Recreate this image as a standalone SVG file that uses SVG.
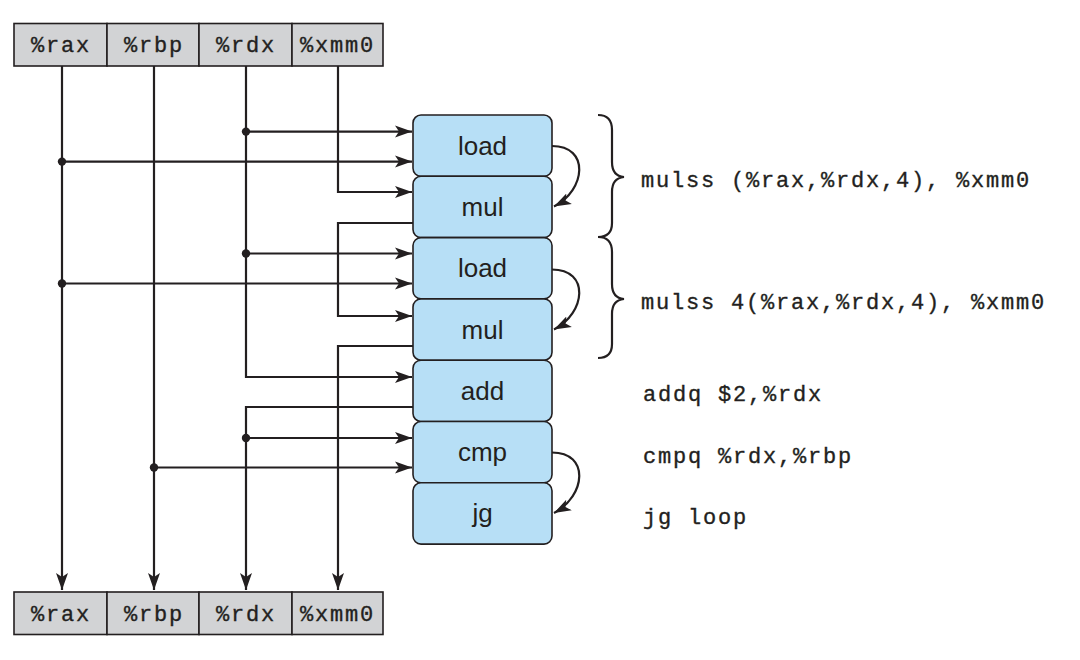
<svg xmlns="http://www.w3.org/2000/svg" width="1080" height="660" viewBox="0 0 1080 660">
<defs>
<style>
.reg{fill:#d2d3d5;stroke:#231f20;stroke-width:1.6}
.rt{font-family:"Liberation Mono",monospace;font-size:22px;letter-spacing:1.8px;fill:#231f20;stroke:#231f20;stroke-width:0.35}
.node{fill:#b7dff6;stroke:#231f20;stroke-width:1.6}
.nt{font-family:"Liberation Sans",Arial,sans-serif;font-size:26px;fill:#231f20;text-anchor:middle}
.w{fill:none;stroke:#231f20;stroke-width:2.2}
.a{marker-end:url(#ah)}
.dot{fill:#231f20}
.code{font-family:"Liberation Mono",monospace;font-size:22px;letter-spacing:1.8px;fill:#231f20;stroke:#231f20;stroke-width:0.35}
</style>
<marker id="ah" markerUnits="userSpaceOnUse" markerWidth="18" markerHeight="14" viewBox="0 0 18 14" refX="17" refY="7" orient="auto">
<path d="M0,1 L17,7 L0,13 L4,7 Z" fill="#231f20"/>
</marker>
</defs>
<rect width="1080" height="660" fill="#fff"/>
<g id="top-registers">
<rect class="reg" x="14" y="23.5" width="93" height="42.5"/>
<rect class="reg" x="107" y="23.5" width="92" height="42.5"/>
<rect class="reg" x="199" y="23.5" width="93" height="42.5"/>
<rect class="reg" x="292" y="23.5" width="91" height="42.5"/>
<text class="rt" x="31" y="52">%rax</text>
<text class="rt" x="124" y="52">%rbp</text>
<text class="rt" x="216" y="52">%rdx</text>
<text class="rt" x="300" y="52">%xmm0</text>
</g>
<g id="bottom-registers">
<rect class="reg" x="14" y="592" width="93" height="42.5"/>
<rect class="reg" x="107" y="592" width="92" height="42.5"/>
<rect class="reg" x="199" y="592" width="93" height="42.5"/>
<rect class="reg" x="292" y="592" width="91" height="42.5"/>
<text class="rt" x="31" y="621">%rax</text>
<text class="rt" x="124" y="621">%rbp</text>
<text class="rt" x="216" y="621">%rdx</text>
<text class="rt" x="300" y="621">%xmm0</text>
</g>
<g id="connectors">
<path class="w a" d="M62,66 V590"/>
<path class="w a" d="M154,66 V590"/>
<path class="w a" d="M246,66 V377 H412"/>
<path class="w a" d="M413,407 H246 V590"/>
<path class="w a" d="M338,66 V192 H412"/>
<path class="w a" d="M413,223 H338 V316 H412"/>
<path class="w a" d="M413,346 H338 V590"/>
<path class="w a" d="M246,131.6 H412"/>
<path class="w a" d="M62,161.6 H412"/>
<path class="w a" d="M246,253.5 H412"/>
<path class="w a" d="M62,283.5 H412"/>
<path class="w a" d="M246,438 H412"/>
<path class="w a" d="M154,467.5 H412"/>
<circle class="dot" cx="246" cy="131.6" r="4.2"/>
<circle class="dot" cx="62" cy="161.6" r="4.2"/>
<circle class="dot" cx="246" cy="253.5" r="4.2"/>
<circle class="dot" cx="62" cy="283.5" r="4.2"/>
<circle class="dot" cx="246" cy="438" r="4.2"/>
<circle class="dot" cx="154" cy="467.5" r="4.2"/>
<path class="w a" d="M552,146 C590,146 586,190 554,206.5"/>
<path class="w a" d="M552,269.5 C590,269.5 586,313 554,329.5"/>
<path class="w a" d="M552,452.5 C590,452.5 586,496 554,513"/>
</g>
<g id="node-load1"><rect class="node" x="413" y="115" width="139" height="61.3" rx="8"/><text class="nt" x="482.5" y="154.5">load</text></g>
<g id="node-mul1"><rect class="node" x="413" y="176.3" width="139" height="61.3" rx="8"/><text class="nt" x="482.5" y="216">mul</text></g>
<g id="node-load2"><rect class="node" x="413" y="237.6" width="139" height="61.3" rx="8"/><text class="nt" x="482.5" y="277">load</text></g>
<g id="node-mul2"><rect class="node" x="413" y="298.9" width="139" height="61.3" rx="8"/><text class="nt" x="482.5" y="338.5">mul</text></g>
<g id="node-add"><rect class="node" x="413" y="360.2" width="139" height="61.3" rx="8"/><text class="nt" x="482.5" y="399.5">add</text></g>
<g id="node-cmp"><rect class="node" x="413" y="421.5" width="139" height="61.3" rx="8"/><text class="nt" x="482.5" y="461">cmp</text></g>
<g id="node-jg"><rect class="node" x="413" y="482.8" width="139" height="61.3" rx="8"/><text class="nt" x="482.5" y="522">jg</text></g>
<g id="braces">
<path class="w" stroke-width="1.6" d="M598,115 Q612,115 612,130 L612,162 Q612,176 624,177 Q612,178 612,192 L612,223 Q612,237 598,237"/>
<path class="w" stroke-width="1.6" d="M598,237 Q612,237 612,252 L612,284 Q612,298 624,299 Q612,300 612,314 L612,344 Q612,358 598,358"/>
</g>
<g id="code">
<text class="code" x="641" y="187">mulss (%rax,%rdx,4), %xmm0</text>
<text class="code" x="641" y="309">mulss 4(%rax,%rdx,4), %xmm0</text>
<text class="code" x="643" y="401">addq $2,%rdx</text>
<text class="code" x="643" y="463">cmpq %rdx,%rbp</text>
<text class="code" x="643" y="524">jg loop</text>
</g>
</svg>
